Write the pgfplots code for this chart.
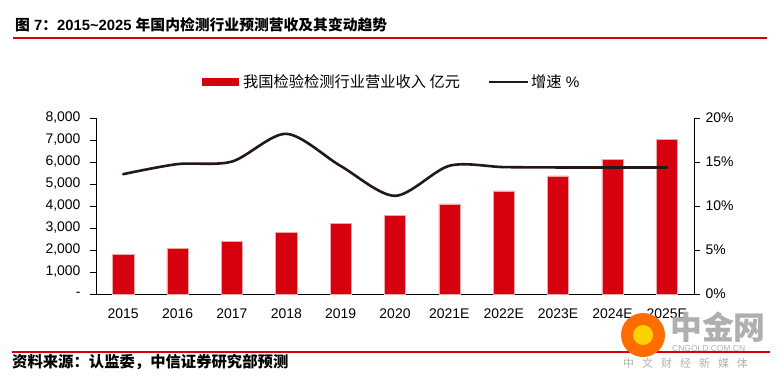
\documentclass[border=0pt]{standalone}
\usepackage{pgfplots}
\pgfplotsset{compat=1.18}
\usepackage{fontspec}
\setmainfont{Liberation Sans}
\newfontfamily\cjk{Noto Sans CJK SC}
\definecolor{barred}{RGB}{215,0,15}
\definecolor{linedark}{RGB}{35,24,21}
\definecolor{wm}{RGB}{175,175,175}
\pgfplotstableread{
x rev growth
0 1806 13.62
1 2064 14.76
2 2382 15.05
3 2807 18.20
4 3217 14.55
5 3581 11.16
6 4097 14.57
7 4689 14.42
8 5372 14.38
9 6131 14.38
10 7026 14.38
}\datatable
\begin{document}
\begin{tikzpicture}[x=1bp,y=1bp]
\path[use as bounding box] (0,0) rectangle (777,381);
% title
\node[anchor=west,inner sep=0] at (15,356) {\fontsize{14.85}{15}\selectfont\bfseries{\cjk 图} 7{\cjk ：}2015\textasciitilde2025 {\cjk 年国内检测行业预测营收及其变动趋势}};
\draw[barred,line width=1.3bp] (13,343) -- (767,343);
% source
\draw[barred,line width=1.3bp] (12,29) -- (770,29);
\node[anchor=west,inner sep=0] at (12,19) {\fontsize{15.4}{16}\selectfont\bfseries\cjk 资料来源：认监委，中信证券研究部预测};
% legend
\fill[barred] (202,295) rectangle (239,303);
\node[anchor=west,inner sep=0] at (243,299) {\fontsize{15.3}{16}\selectfont{\cjk 我国检验检测行业营业收入 亿元}};
\draw[linedark,line width=2.6bp] (489,299) -- (528,299);
\node[anchor=west,inner sep=0] at (531,299) {\fontsize{15.3}{16}\selectfont{\cjk 增速} \%};
\begin{axis}[
  at={(96bp,87bp)}, anchor=south west,
  scale only axis, width=598bp, height=176bp,
  xmin=-0.5, xmax=10.5, ymin=0, ymax=8000,
  axis y line*=left, axis x line*=bottom,
  axis line style={line width=1bp,-},
  xtick={0,...,10},
  xticklabels={2015,2016,2017,2018,2019,2020,2021E,2022E,2023E,2024E,2025E},
  major x tick style={draw=none},
  extra x ticks={-0.5,0.5,1.5,2.5,3.5,4.5,5.5,6.5,7.5,8.5,9.5,10.5},
  extra x tick labels={},
  extra x tick style={major tick length=5bp, tick align=outside, tick style={black,line width=1bp}},
  ytick={0,1000,...,8000},
  yticklabels={-\hspace{8bp},{1,000},{2,000},{3,000},{4,000},{5,000},{6,000},{7,000},{8,000}},
  tick align=outside, major tick length=6bp,
  y tick style={black,line width=1bp},
  tick label style={font=\fontsize{14}{14}\selectfont},
  xticklabel style={yshift=-5bp},
  yticklabel style={xshift=-6bp},
  clip=false,
]
\addplot[ybar, bar width=0.39, fill=barred, draw=barred!35, line width=0.5bp, bar shift=0] table[x=x,y=rev] {\datatable};
\end{axis}
\begin{axis}[
  at={(96bp,87bp)}, anchor=south west,
  scale only axis, width=598bp, height=176bp,
  xmin=-0.5, xmax=10.5, ymin=0, ymax=20,
  axis y line*=right, axis x line=none,
  axis line style={line width=1bp,-},
  ytick={0,5,...,20},
  yticklabels={0\%,5\%,10\%,15\%,20\%},
  tick align=outside, major tick length=6bp,
  y tick style={black,line width=1bp},
  tick label style={font=\fontsize{14}{14}\selectfont},
  yticklabel style={xshift=2bp},
  clip=false,
]
\addplot[linedark, line width=2.6bp, smooth, tension=0.5, line cap=round] table[x=x,y=growth] {\datatable};
\end{axis}
% watermark
\fill[orange!85!red] (643,46) circle (22);
\fill[yellow!70!orange] (643,46) circle (10);
\node[anchor=west,inner sep=0,text=wm] at (670,54) {\fontsize{32}{32}\selectfont\bfseries\cjk 中金网};
\node[anchor=west,inner sep=0,text=wm] at (672,32) {\fontsize{8.5}{9}\selectfont CNGOLD.COM.CN};
\node[anchor=west,inner sep=0,text=wm] at (623,18) {\fontsize{11}{11}\selectfont\cjk 中\hspace{8bp}文\hspace{8bp}财\hspace{8bp}经\hspace{8bp}新\hspace{8bp}媒\hspace{8bp}体};
\end{tikzpicture}
\end{document}
